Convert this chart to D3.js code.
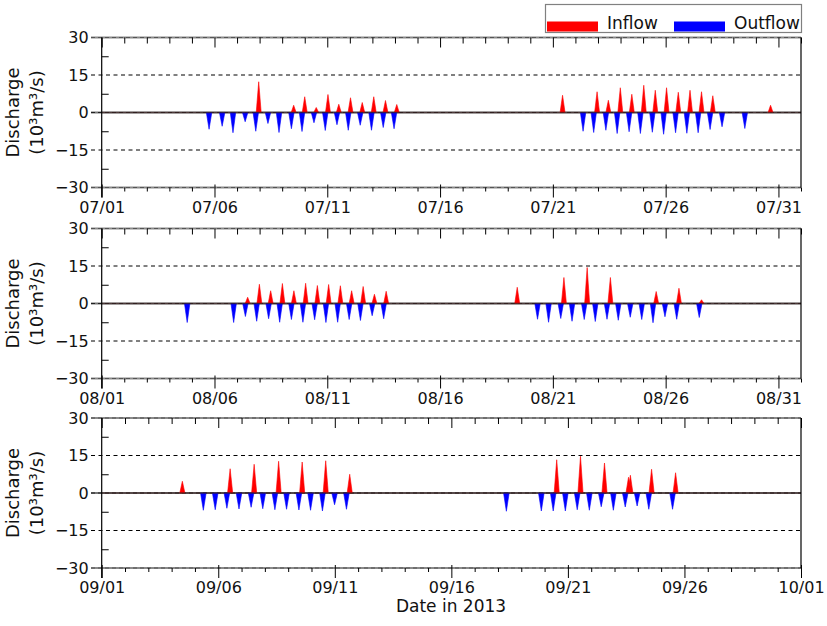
<!DOCTYPE html>
<html><head><meta charset="utf-8">
<script src="https://cdn.jsdelivr.net/npm/d3@7/dist/d3.min.js"></script>
<style>body{margin:0;background:#fff}svg text{font-family:"DejaVu Sans",Verdana,sans-serif}</style>
</head><body><svg id="c" width="827" height="626"></svg>
<script>
// Spikes: [day of month (fractional, 1 = 1st 00:00), discharge in 10^3 m3/s]
const julyInflow = [[7.96,12.3],[9.51,2.9],[10.0,6.3],[10.51,2.0],[11.03,7.2],[11.51,3.3],[12.03,5.9],[12.55,4.0],[13.06,6.3],[13.58,4.8],[14.08,3.2],[21.43,6.9],[22.96,8.3],[23.46,4.9],[23.99,9.9],[24.50,7.3],[25.03,10.9],[25.54,8.9],[26.04,9.9],[26.56,8.1],[27.08,8.9],[27.59,8.3],[28.09,6.7],[30.65,2.9]];
const julyOutflow = [[5.76,-6.7],[6.34,-5.5],[6.82,-8.1],[7.36,-3.7],[7.83,-7.5],[8.37,-4.4],[8.86,-8.0],[9.41,-6.5],[9.88,-7.6],[10.41,-4.1],[10.91,-7.2],[11.43,-4.9],[11.93,-7.1],[12.46,-5.1],[12.96,-7.1],[13.48,-6.0],[13.96,-6.5],[22.34,-7.5],[22.81,-8.0],[23.35,-7.1],[23.85,-8.4],[24.38,-7.7],[24.88,-8.4],[25.41,-7.9],[25.91,-8.7],[26.44,-8.1],[26.94,-8.3],[27.44,-8.1],[27.97,-6.8],[28.50,-5.7],[29.51,-6.4]];
const augInflow = [[7.47,2.5],[7.99,7.7],[8.49,5.1],[9.01,8.0],[9.52,5.1],[10.04,8.1],[10.56,7.2],[11.06,7.6],[11.58,7.1],[12.08,5.1],[12.59,6.8],[13.09,3.7],[13.61,4.9],[19.42,6.5],[21.49,10.4],[22.52,14.4],[23.55,10.4],[25.58,4.8],[26.59,6.1],[27.59,1.5]];
const augOutflow = [[4.79,-7.6],[6.85,-7.6],[7.37,-5.2],[7.87,-7.1],[8.40,-6.1],[8.89,-7.5],[9.41,-6.4],[9.92,-7.5],[10.44,-6.5],[10.94,-7.6],[11.46,-7.5],[11.97,-6.4],[12.47,-6.8],[12.99,-4.9],[13.50,-6.1],[20.32,-6.3],[20.81,-7.5],[21.35,-6.0],[21.85,-7.1],[22.39,-6.4],[22.88,-7.2],[23.40,-6.3],[23.90,-6.7],[24.43,-5.5],[24.94,-6.4],[25.44,-7.7],[25.97,-5.3],[26.49,-6.3],[27.49,-5.6]];
const sepInflow = [[4.46,4.7],[6.51,9.7],[7.54,11.5],[8.59,12.7],[9.60,12.4],[10.61,12.9],[11.64,7.5],[20.52,13.3],[21.54,14.7],[22.57,12.0],[23.60,6.3],[23.68,7.1],[24.59,9.5],[25.62,8.1]];
const sepOutflow = [[5.36,-6.9],[5.87,-6.7],[6.37,-6.1],[6.89,-6.4],[7.41,-5.7],[7.91,-6.3],[8.43,-6.7],[8.93,-6.5],[9.46,-6.8],[9.96,-6.9],[10.47,-7.2],[10.99,-4.7],[11.50,-6.5],[18.36,-7.3],[19.86,-7.2],[20.37,-7.2],[20.89,-7.2],[21.40,-6.7],[21.92,-6.9],[22.43,-5.5],[22.95,-6.9],[23.46,-5.6],[23.97,-5.2],[24.47,-6.5],[25.49,-6.5]];

const months = [6, 7, 8]; // July, August, September (0-based)
const yTicks = [30, 15, 0, -15, -30];
const yMinor = [22.5, 7.5, -7.5, -22.5];
const seriesNames = ["Inflow", "Outflow"];
const yLabel = ["Discharge", "(10³m³/s)"];
const xTitle = "Date in 2013";

const panels = [
  {m: months[0], inflow: julyInflow, outflow: julyOutflow},
  {m: months[1], inflow: augInflow, outflow: augOutflow},
  {m: months[2], inflow: sepInflow, outflow: sepOutflow}
];

const svg = d3.select("#c");
const X0 = 101.7, X1 = 801, H = 150;
const tops = [37.5, 228.5, 418];
const DAY = 864e5;
const fmt = d3.utcFormat("%m/%d");
const FONT = '"DejaVu Sans",Verdana,sans-serif';

panels.forEach((p, i) => {
  const top = tops[i];
  const start = new Date(Date.UTC(2013, p.m, 1));
  const end = new Date(Date.UTC(2013, p.m + 1, 1));
  const x = d3.scaleUtc().domain([start, end]).range([X0, X1]);
  const y = d3.scaleLinear().domain([-30, 30]).range([top + H, top]);
  const g = svg.append("g");
  const toDate = d => new Date(start.getTime() + (d - 1) * DAY);

  // horizontal grid lines
  yTicks.forEach(v => {
    const ln = () => g.append("line").attr("x1", 91).attr("x2", X1).attr("y1", y(v)).attr("y2", y(v));
    if (Math.abs(v) === 30) {
      ln().attr("stroke", "#8a8a8a").attr("stroke-width", 2);
      ln().attr("stroke", "#555").attr("stroke-width", 1).attr("stroke-dasharray", "4,3");
    } else if (v === 0) {
      ln().attr("stroke", "#777").attr("stroke-width", 2.2);
      ln().attr("stroke", "#222").attr("stroke-width", 1).attr("stroke-dasharray", "4,3");
    } else {
      ln().attr("stroke", "#000").attr("stroke-width", 1).attr("stroke-dasharray", "4,3.5");
    }
  });

  // spikes
  const area = d3.area().x(d => x(d[0])).y0(y(0)).y1(d => y(d[1]));
  const spike = (arr, hw) => arr.map(s => [[toDate(s[0] - hw), 0], [toDate(s[0]), s[1]], [toDate(s[0] + hw), 0]]);
  g.selectAll(".in").data(spike(p.inflow, 0.11)).enter().append("path")
    .attr("d", area).attr("fill", "#ff0000").attr("stroke", "#ff0000").attr("stroke-width", 0.6).attr("stroke-linejoin", "round");
  g.selectAll(".out").data(spike(p.outflow, 0.12)).enter().append("path")
    .attr("d", area).attr("fill", "#0000ff").attr("stroke", "#0000ff").attr("stroke-width", 0.6).attr("stroke-linejoin", "round");
  // dark zero line over spike bases
  g.append("line").attr("x1", X0).attr("x2", X1).attr("y1", y(0)).attr("y2", y(0))
    .attr("stroke", "#3a2020").attr("stroke-width", 1.4).attr("opacity", 0.7);

  const days = d3.utcDay.range(start, new Date(end.getTime() + 1));
  const majors = days.filter(d => (d.getUTCDate() - 1) % 5 === 0 && d.getUTCMonth() === p.m).concat(
    p.m === 8 ? [end] : []);
  const minors = days.filter(d => !majors.some(m => m.getTime() === d.getTime()));

  // bottom axis minor ticks
  g.append("g").attr("transform", `translate(0,${top + H})`)
    .call(d3.axisBottom(x).tickValues(minors).tickSize(4).tickFormat(""))
    .call(a => a.select(".domain").remove());
  // bottom axis major ticks + labels
  const bx = g.append("g").attr("transform", `translate(0,${top + H})`)
    .call(d3.axisBottom(x).tickValues(majors).tickSizeInner(10).tickSizeOuter(0).tickPadding(4).tickFormat(fmt));
  bx.select(".domain").remove();
  bx.selectAll(".tick line").attr("y1", -3);
  bx.selectAll("text").attr("font-size", 16).attr("fill", "#111").style("font-family", FONT);

  // top axis ticks (inward)
  g.append("g").attr("transform", `translate(0,${top})`)
    .call(d3.axisTop(x).tickValues(minors).tickSize(-6).tickFormat(""))
    .call(a => a.select(".domain").remove());
  g.append("g").attr("transform", `translate(0,${top})`)
    .call(d3.axisTop(x).tickValues(majors).tickSize(-10).tickFormat(""))
    .call(a => a.select(".domain").remove());

  // left axis
  const ly = g.append("g").attr("transform", `translate(${X0},0)`)
    .call(d3.axisLeft(y).tickValues(yTicks).tickSize(10).tickPadding(3));
  ly.select(".domain").remove();
  ly.selectAll(".tick line").remove();
  ly.selectAll("text").attr("font-size", 16).attr("fill", "#111").style("font-family", FONT);
  g.append("g").attr("transform", `translate(${X0},0)`)
    .call(d3.axisRight(y).tickValues(yMinor).tickSize(7).tickFormat(""))
    .call(a => a.select(".domain").remove());
  g.append("line").attr("x1", X0).attr("x2", X0).attr("y1", top).attr("y2", top + H + 10)
    .attr("stroke", "#000").attr("stroke-width", 1.2);
  // right border
  g.append("line").attr("x1", X1).attr("x2", X1).attr("y1", top).attr("y2", top + H)
    .attr("stroke", "#000").attr("stroke-width", 1.2);

  // y label
  const cy = y(0);
  const lab = g.append("text").attr("transform", `translate(19,${cy}) rotate(-90)`)
    .attr("text-anchor", "middle").attr("font-size", 18).attr("fill", "#111");
  lab.append("tspan").attr("x", 0).attr("y", 0).text(yLabel[0]);
  lab.append("tspan").attr("x", 0).attr("y", 24).text(yLabel[1]);
});

// x title
svg.append("text").attr("x", 451).attr("y", 612).attr("text-anchor", "middle")
  .attr("font-size", 17).attr("fill", "#111").text(xTitle);

// legend
const lg = svg.append("g");
lg.append("rect").attr("x", 545.5).attr("y", 4.5).attr("width", 256).attr("height", 28)
  .attr("fill", "#fff").attr("stroke", "#808080").attr("stroke-width", 1.2);
const colors = ["#ff0000", "#0000ff"];
const lx = [547, 674], tx = [607, 734];
seriesNames.forEach((n, i) => {
  lg.append("rect").attr("x", lx[i]).attr("y", 21.5).attr("width", 51).attr("height", 10).attr("fill", colors[i]);
  lg.append("text").attr("x", tx[i]).attr("y", 28.5).attr("font-size", 17).attr("fill", "#111").text(n);
});
</script></body></html>
